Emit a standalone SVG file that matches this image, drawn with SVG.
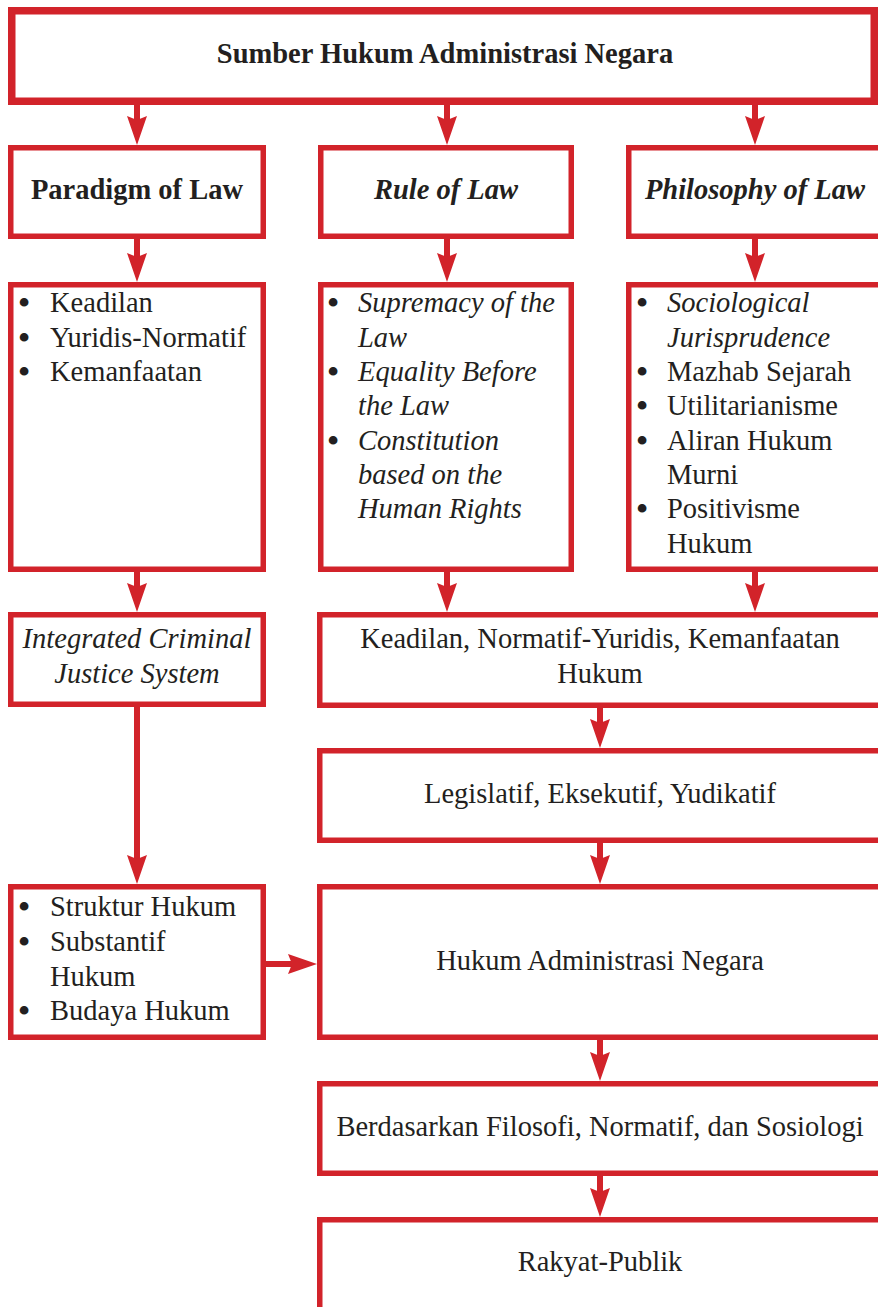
<svg xmlns="http://www.w3.org/2000/svg" width="878" height="1307" viewBox="0 0 878 1307">
<style>
.box{fill:#fff;stroke:#d2232a;stroke-width:5.5}
.top{fill:#fff;stroke:#d2232a;stroke-width:7.5}
.t{font-family:"Liberation Serif","Times New Roman",serif;font-size:28.5px;fill:#231f20}
.bu{font-family:"Liberation Serif","Times New Roman",serif;font-size:32px;font-weight:bold;fill:#231f20;text-anchor:middle}
.c{text-anchor:middle}
.b{font-weight:bold}
.i{font-style:italic}
.ln{stroke:#d2232a;stroke-width:6;fill:none}
.hd{fill:#d2232a}
</style>
<defs>
<path id="ad" d="M-10,-29 L0,-25 L10,-29 L0,0 Z"/>
<path id="ar" d="M-29,-10 L-25,0 L-29,10 L0,0 Z"/>
</defs>
<g id="n-top"><rect class="top" x="11.75" y="10.75" width="862.5" height="90.5"/><text class="t b c" x="445" y="63">Sumber Hukum Administrasi Negara</text></g>
<g id="n-paradigm"><rect class="box" x="10.75" y="147.75" width="252.5" height="88.5"/><text class="t b c" x="137" y="199">Paradigm of Law</text></g>
<g id="n-rule"><rect class="box" x="320.75" y="147.75" width="250.5" height="88.5"/><text class="t b i c" x="446" y="199">Rule of Law</text></g>
<g id="n-philosophy"><rect class="box" x="628.75" y="147.75" width="300" height="88.5"/><text class="t b i c" x="755" y="199">Philosophy of Law</text></g>
<g id="n-paradigm-list"><rect class="box" x="10.75" y="284.75" width="252.5" height="284.5"/>
<text class="bu" x="24" y="313">•</text><text class="t" x="50" y="312">Keadilan</text>
<text class="bu" x="24" y="347.5">•</text><text class="t" x="50" y="346.5">Yuridis-Normatif</text>
<text class="bu" x="24" y="382">•</text><text class="t" x="50" y="381">Kemanfaatan</text></g>
<g id="n-rule-list"><rect class="box" x="320.75" y="284.75" width="250.5" height="284.5"/>
<text class="bu" x="333" y="313">•</text><text class="t i" x="358" y="312">Supremacy of the</text>
<text class="t i" x="358" y="346.5">Law</text>
<text class="bu" x="333" y="382">•</text><text class="t i" x="358" y="381">Equality Before</text>
<text class="t i" x="358" y="415">the Law</text>
<text class="bu" x="333" y="450.5">•</text><text class="t i" x="358" y="449.5">Constitution</text>
<text class="t i" x="358" y="484">based on the</text>
<text class="t i" x="358" y="518">Human Rights</text></g>
<g id="n-philosophy-list"><rect class="box" x="628.75" y="284.75" width="300" height="284.5"/>
<text class="bu" x="642" y="313">•</text><text class="t i" x="667" y="312">Sociological</text>
<text class="t i" x="667" y="346.5">Jurisprudence</text>
<text class="bu" x="642" y="382">•</text><text class="t" x="667" y="381">Mazhab Sejarah</text>
<text class="bu" x="642" y="416">•</text><text class="t" x="667" y="415">Utilitarianisme</text>
<text class="bu" x="642" y="450.5">•</text><text class="t" x="667" y="449.5">Aliran Hukum</text>
<text class="t" x="667" y="484">Murni</text>
<text class="bu" x="642" y="519">•</text><text class="t" x="667" y="518">Positivisme</text>
<text class="t" x="667" y="553">Hukum</text></g>
<g id="n-icjs"><rect class="box" x="10.75" y="614.75" width="252.5" height="89.5"/>
<text class="t i c" x="137" y="648">Integrated Criminal</text><text class="t i c" x="137" y="683">Justice System</text></g>
<g id="n-keadilan"><rect class="box" x="319.75" y="614.75" width="600" height="90.5"/>
<text class="t c" x="600" y="648">Keadilan, Normatif-Yuridis, Kemanfaatan</text><text class="t c" x="600" y="683">Hukum</text></g>
<g id="n-legislatif"><rect class="box" x="319.75" y="750.75" width="600" height="89.5"/>
<text class="t c" x="600" y="803">Legislatif, Eksekutif, Yudikatif</text></g>
<g id="n-struktur"><rect class="box" x="10.75" y="886.75" width="252.5" height="150.5"/>
<text class="bu" x="24" y="917">•</text><text class="t" x="50" y="916">Struktur Hukum</text>
<text class="bu" x="24" y="952">•</text><text class="t" x="50" y="951">Substantif</text>
<text class="t" x="50" y="986">Hukum</text>
<text class="bu" x="24" y="1021">•</text><text class="t" x="50" y="1020">Budaya Hukum</text></g>
<g id="n-han"><rect class="box" x="319.75" y="886.75" width="600" height="150.5"/>
<text class="t c" x="600" y="970">Hukum Administrasi Negara</text></g>
<g id="n-berdasarkan"><rect class="box" x="319.75" y="1083.75" width="600" height="89.5"/>
<text class="t c" x="600" y="1136">Berdasarkan Filosofi, Normatif, dan Sosiologi</text></g>
<g id="n-rakyat"><rect class="box" x="319.75" y="1219.75" width="600" height="120"/>
<text class="t c" x="600" y="1271">Rakyat-Publik</text></g>
<g id="connectors">
<line class="ln" x1="137" y1="104" x2="137" y2="122"/><use href="#ad" class="hd" x="137" y="145"/>
<line class="ln" x1="447" y1="104" x2="447" y2="122"/><use href="#ad" class="hd" x="447" y="145"/>
<line class="ln" x1="755" y1="104" x2="755" y2="122"/><use href="#ad" class="hd" x="755" y="145"/>
<line class="ln" x1="137" y1="238" x2="137" y2="259"/><use href="#ad" class="hd" x="137" y="282"/>
<line class="ln" x1="447" y1="238" x2="447" y2="259"/><use href="#ad" class="hd" x="447" y="282"/>
<line class="ln" x1="755" y1="238" x2="755" y2="259"/><use href="#ad" class="hd" x="755" y="282"/>
<line class="ln" x1="137" y1="571" x2="137" y2="589"/><use href="#ad" class="hd" x="137" y="612"/>
<line class="ln" x1="447" y1="571" x2="447" y2="589"/><use href="#ad" class="hd" x="447" y="612"/>
<line class="ln" x1="755" y1="571" x2="755" y2="589"/><use href="#ad" class="hd" x="755" y="612"/>
<line class="ln" x1="137" y1="706" x2="137" y2="861"/><use href="#ad" class="hd" x="137" y="884"/>
<line class="ln" x1="600" y1="707" x2="600" y2="725"/><use href="#ad" class="hd" x="600" y="748"/>
<line class="ln" x1="600" y1="842" x2="600" y2="861"/><use href="#ad" class="hd" x="600" y="884"/>
<line class="ln" x1="265" y1="964" x2="294" y2="964"/><use href="#ar" class="hd" x="317" y="964"/>
<line class="ln" x1="600" y1="1039" x2="600" y2="1058"/><use href="#ad" class="hd" x="600" y="1081"/>
<line class="ln" x1="600" y1="1175" x2="600" y2="1194"/><use href="#ad" class="hd" x="600" y="1217"/>
</g>
</svg>
